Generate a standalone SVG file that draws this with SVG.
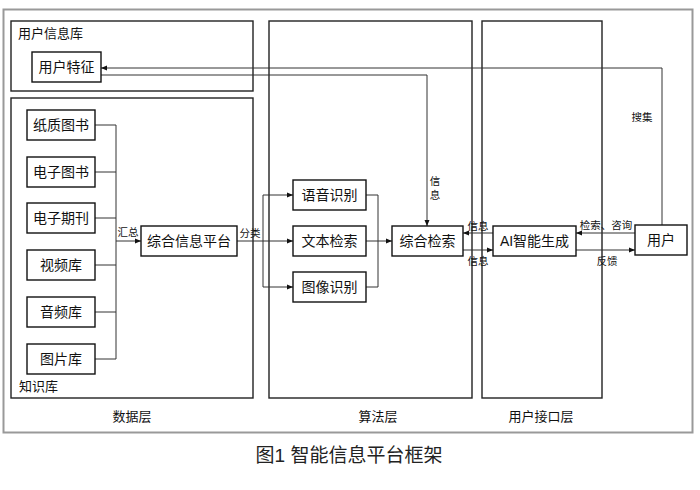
<svg xmlns="http://www.w3.org/2000/svg" width="700" height="490" viewBox="0 0 700 490">
<style>
text{font-family:"Liberation Sans","Noto Sans CJK SC",sans-serif;fill:#111}
.box{fill:#fff;stroke:#111;stroke-width:1.4}
.layer{fill:none;stroke:#222;stroke-width:1.4}
.t{font-size:14px;text-anchor:middle;dominant-baseline:central}
.s{font-size:10.5px;text-anchor:middle;dominant-baseline:central}
.l{font-size:13px;dominant-baseline:central}
.c{fill:none;stroke:#333;stroke-width:1}
</style>
<defs>
<marker id="a" viewBox="0 0 6 6" refX="6" refY="3" markerWidth="6" markerHeight="6" orient="auto" markerUnits="userSpaceOnUse">
<path d="M0,0.5 L6,3 L0,5.5 Z" fill="#111"/>
</marker>
</defs>
<rect x="0" y="0" width="700" height="490" fill="#fff"/>
<rect x="3.5" y="9.5" width="689" height="423" fill="none" stroke="#999" stroke-width="2"/>
<g id="layers">
<rect class="layer" x="11" y="21" width="242" height="70"/>
<text class="l" x="18" y="33">用户信息库</text>
<rect class="layer" x="11" y="98" width="242" height="300"/>
<text class="l" x="19" y="386">知识库</text>
<rect class="layer" x="269" y="21" width="203" height="377"/>
<rect class="layer" x="482" y="21" width="120" height="377"/>
<text class="l" x="132" y="416" text-anchor="middle">数据层</text>
<text class="l" x="378" y="416" text-anchor="middle">算法层</text>
<text class="l" x="541" y="416" text-anchor="middle">用户接口层</text>
</g>
<g id="connectors">
<path class="c" d="M95,125 H116 M95,172 H116 M95,218 H116 M95,265 H116 M95,312 H116 M95,359 H116 M116,125 V359"/>
<path class="c" d="M116,241 H141" marker-end="url(#a)"/>
<path class="c" d="M237,241 H293" marker-end="url(#a)"/>
<path class="c" d="M263,195 V287"/>
<path class="c" d="M263,195 H293" marker-end="url(#a)"/>
<path class="c" d="M263,287 H293" marker-end="url(#a)"/>
<path class="c" d="M366,195 H378 M366,287 H378 M378,195 V287 M366,241 H378"/>
<path class="c" d="M378,241 H392" marker-end="url(#a)"/>
<path class="c" d="M662,225 V68 H101" marker-end="url(#a)"/>
<path class="c" d="M101,75 H427 V226" marker-end="url(#a)"/>
<path class="c" d="M493,233 H463" marker-end="url(#a)"/>
<path class="c" d="M463,250 H493" marker-end="url(#a)"/>
<path class="c" d="M635,233 H576" marker-end="url(#a)"/>
<path class="c" d="M576,250 H635" marker-end="url(#a)"/>
<text class="s" x="128" y="232">汇总</text>
<text class="s" x="250" y="233">分类</text>
<text class="s" x="435" y="181">信</text>
<text class="s" x="435" y="195">息</text>
<text class="s" x="642" y="117">搜集</text>
<text class="s" x="478" y="226">信息</text>
<text class="s" x="478" y="261">信息</text>
<text class="s" x="606" y="225">检索、咨询</text>
<text class="s" x="607" y="261">反馈</text>
</g>
<g id="n-yhtz"><rect class="box" x="32" y="52" width="69" height="30"/><text class="t" x="66.5" y="67">用户特征</text></g>
<g id="n-zztx"><rect class="box" x="27" y="110" width="68" height="30"/><text class="t" x="61" y="125">纸质图书</text></g>
<g id="n-dzts"><rect class="box" x="27" y="157" width="68" height="30"/><text class="t" x="61" y="172">电子图书</text></g>
<g id="n-dzqk"><rect class="box" x="27" y="203" width="68" height="30"/><text class="t" x="61" y="218">电子期刊</text></g>
<g id="n-spk"><rect class="box" x="27" y="250" width="68" height="30"/><text class="t" x="61" y="265">视频库</text></g>
<g id="n-ypk"><rect class="box" x="27" y="297" width="68" height="30"/><text class="t" x="61" y="312">音频库</text></g>
<g id="n-tpk"><rect class="box" x="27" y="344" width="68" height="30"/><text class="t" x="61" y="359">图片库</text></g>
<g id="n-zhxxpt"><rect class="box" x="141" y="226" width="96" height="30"/><text class="t" x="189" y="241">综合信息平台</text></g>
<g id="n-yysb"><rect class="box" x="293" y="180" width="73" height="30"/><text class="t" x="329.5" y="195">语音识别</text></g>
<g id="n-wbjs"><rect class="box" x="293" y="226" width="73" height="30"/><text class="t" x="329.5" y="241">文本检索</text></g>
<g id="n-txsb"><rect class="box" x="293" y="272" width="73" height="30"/><text class="t" x="329.5" y="287">图像识别</text></g>
<g id="n-zhjs"><rect class="box" x="392" y="226" width="71" height="30"/><text class="t" x="427.5" y="241">综合检索</text></g>
<g id="n-ai"><rect class="box" x="493" y="226" width="83" height="30"/><text class="t" x="534.5" y="241">AI智能生成</text></g>
<g id="n-user"><rect class="box" x="635" y="225" width="52" height="30"/><text class="t" x="661" y="240">用户</text></g>
<text x="349" y="455" font-size="19" text-anchor="middle" dominant-baseline="central" style="fill:#222">图1 智能信息平台框架</text>
</svg>
